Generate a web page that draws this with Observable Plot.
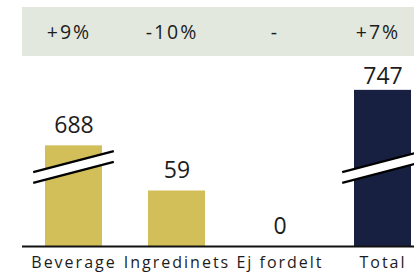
<!DOCTYPE html>
<html>
<head>
<meta charset="utf-8">
<script src="https://cdn.jsdelivr.net/npm/d3@7"></script>
<script src="https://cdn.jsdelivr.net/npm/@observablehq/plot@0.6"></script>
<style>
  html, body { margin: 0; padding: 0; background: #fff; }
  #wrap { position: relative; width: 414px; height: 273px; overflow: hidden; }
  #band { position: absolute; left: 22px; top: 7px; width: 392px; height: 49px; background: #e3e8de; }
  #chart { position: absolute; left: 0; top: 0; }
</style>
</head>
<body>
<div id="wrap"><div id="band"></div><div id="chart"></div></div>
<script>
// ---- data ----
const categories = ["Beverage", "Ingredinets", "Ej fordelt", "Total"];
const values = [688, 59, 0, 747];
const changes = ["+9%", "-10%", "-", "+7%"];
const kinds = ["segment", "segment", "segment", "total"];
const brokenBars = ["Beverage", "Total"];
const breakStart = 84;   // value where the axis break begins
const breakEnd = 665;    // value where the axis resumes

// broken value axis: values above the break are shifted down by the skipped span
const compress = v => (v <= breakStart ? v : v - (breakEnd - breakStart));

const data = categories.map((c, i) => ({category: c, value: values[i], shown: compress(values[i]), change: changes[i], kind: kinds[i]}));
const breaks = brokenBars.map(c => ({category: c, shown: compress(breakStart)}));

const GOLD = "#d3bf5a";
const NAVY = "#182042";
const INK = "#1c1c1c";
const FONT = "'Open Sans', 'DejaVu Sans', sans-serif";

// axis-break decoration drawn through Plot's scales
function breakMark(index, scales) {
  const x = scales.x, y = scales.y;
  const bw = typeof x.bandwidth === "function" ? x.bandwidth() : 0;
  const g = d3.create("svg:g");
  const hw = 40.3, slope = 0.26, gap = 10.7;
  for (const d of breaks) {
    const cx = x(d.category) + bw / 2;
    const cy = y(d.shown);
    const u1 = [cx - hw, cy - gap / 2 + slope * hw], u2 = [cx + hw, cy - gap / 2 - slope * hw];
    const l1 = [cx - hw, cy + gap / 2 + slope * hw], l2 = [cx + hw, cy + gap / 2 - slope * hw];
    g.append("path").attr("d", `M${u1}L${u2}L${l2}L${l1}Z`).attr("fill", "#fff");
    g.append("path").attr("d", `M${u1}L${u2}M${l1}L${l2}`).attr("stroke", "#000").attr("stroke-width", 2.2).attr("fill", "none");
  }
  return g.node();
}

const plot = Plot.plot({
  width: 414,
  height: 273,
  marginLeft: 22,
  marginRight: 0,
  marginTop: 0,
  marginBottom: 27,
  style: {background: "transparent", overflow: "visible", fontFamily: FONT},
  x: {domain: categories, range: [22, 434], paddingInner: 0.45, paddingOuter: 0.225, axis: null},
  y: {domain: [0, compress(800)], range: [246, 40], axis: null},
  color: {domain: ["segment", "total"], range: [GOLD, NAVY]},
  marks: [
    Plot.barY(data, {x: "category", y: "shown", fill: "kind"}),
    breakMark,
    Plot.ruleY([0], {stroke: "#111", strokeWidth: 1.8}),
    Plot.text(data.filter(d => d.kind !== "total"), {x: "category", y: "shown", text: d => String(d.value), dy: -20, fontSize: 23, fill: INK}),
    Plot.text(data.filter(d => d.kind === "total"), {x: "category", y: "shown", text: d => String(d.value), dy: -13.5, fontSize: 23, fill: INK}),
    Plot.text(data, {x: "category", text: "change", frameAnchor: "top", lineAnchor: "middle", dy: 32, dx: -5, fontSize: 19.5, fill: INK}),
    Plot.text(data, {x: "category", text: "category", frameAnchor: "bottom", lineAnchor: "middle", dy: 16.5, fontSize: 16, fill: INK})
  ]
});
plot.querySelectorAll("[font-size]").forEach(t => {
  const fs = parseFloat(t.getAttribute("font-size"));
  if (Math.abs(fs - 16) < 0.01) t.style.letterSpacing = "2px";
  if (Math.abs(fs - 19.5) < 0.01) t.style.letterSpacing = "2px";
});
document.getElementById("chart").appendChild(plot);
</script>
</body>
</html>
